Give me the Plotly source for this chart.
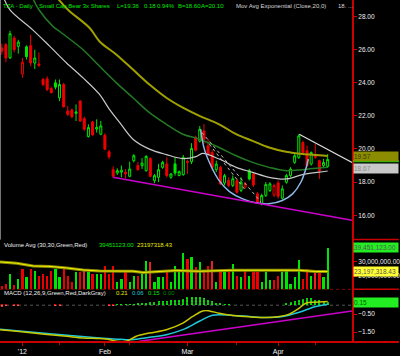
import plotly.graph_objects as go
import pandas as pd

# ---------------- data ----------------
holidays = ['2011-12-26', '2012-01-02', '2012-01-16', '2012-02-20', '2012-04-06']
dates = [d for d in pd.bdate_range('2011-12-23', '2012-04-19') if d.strftime('%Y-%m-%d') not in holidays]
kx = list(range(len(dates)))

opens = [26.10,26.29,25.50,26.69,26.19,24.53,26.17,26.23,25.19,25.13,
         24.19,24.23,23.65,23.99,23.09,23.89,22.29,22.35,22.15,22.89,
         21.83,20.75,21.63,21.20,20.89,20.83,19.83,18.75,18.55,18.60,
         18.60,18.35,19.29,19.00,18.99,18.69,19.43,18.09,18.29,18.89,
         19.09,18.29,19.10,18.40,18.45,19.25,19.23,20.70,20.47,21.09,
         20.19,19.79,18.75,18.89,17.95,18.10,17.80,18.09,17.50,17.70,
         18.69,18.49,17.29,16.69,17.20,17.49,17.23,17.95,17.03,17.99,
         18.39,19.19,19.49,20.39,19.89,19.09,19.60,19.29,18.99,18.95]
highs = [26.35,26.39,27.13,26.83,26.59,25.49,26.25,26.89,25.99,25.83,
         24.29,24.39,23.75,24.19,24.19,23.99,22.59,22.45,22.69,22.95,
         21.95,21.49,21.70,21.79,21.69,20.95,19.95,18.95,18.83,19.00,
         18.79,19.23,19.69,19.20,19.45,19.63,19.50,18.49,19.10,19.29,
         19.50,18.55,19.50,18.70,19.63,19.35,20.35,20.80,21.39,21.50,
         20.60,19.95,19.30,18.99,18.50,18.30,18.40,18.20,18.30,18.00,
         18.80,18.60,17.40,17.30,18.00,18.00,17.90,18.10,17.80,18.50,
         18.90,19.70,20.89,20.50,20.20,19.85,20.30,19.35,19.40,19.70]
lows = [25.69,25.23,25.43,25.83,25.75,24.29,25.40,24.99,24.83,24.95,
        23.79,23.49,23.35,23.59,22.89,22.49,21.99,21.85,21.69,21.63,
        21.09,20.69,20.80,20.99,20.83,19.95,19.39,18.29,18.43,18.29,
        18.23,18.29,19.19,18.70,18.79,18.63,18.29,17.93,18.00,18.80,
        18.29,18.20,18.39,18.35,18.39,18.49,19.09,19.85,20.39,20.30,
        19.55,18.70,18.60,17.83,17.80,17.70,17.70,17.30,17.40,17.60,
        18.10,17.70,16.70,16.60,17.10,17.40,17.10,17.00,16.95,17.90,
        18.30,19.10,19.40,19.70,18.90,19.00,19.40,18.19,18.90,18.85]
closes = [25.90,25.49,26.95,25.99,26.45,25.23,25.57,25.19,25.49,25.05,
          23.89,23.59,23.40,23.73,23.89,22.55,22.09,21.95,22.23,21.69,
          21.19,21.29,20.85,21.30,21.39,19.99,19.53,18.35,18.69,18.72,
          18.50,18.79,19.59,18.75,19.15,19.55,18.35,18.39,18.75,19.19,
          18.39,18.49,18.55,18.63,19.49,19.20,20.03,19.93,21.19,20.59,
          19.69,18.89,19.09,17.89,18.39,17.80,18.20,17.39,18.00,17.90,
          18.19,17.83,16.79,17.19,17.85,17.89,17.79,17.15,17.59,18.39,
          18.79,19.59,20.79,19.79,18.99,19.79,19.50,18.69,19.18,19.36]
prior_close = 26.40

volume_m = [13.5,15.1,21.8,14.4,18.0,25.2,19.6,25.2,24.1,20.7,
            21.8,20.5,24.1,25.2,19.6,25.2,20.7,16.2,23.4,23.4,
            25.2,23.0,21.8,21.8,21.8,27.5,21.8,27.5,16.2,18.0,
            23.0,16.2,20.7,20.7,23.0,30.4,29.7,16.2,19.6,19.6,
            23.0,16.2,27.0,23.0,36.1,32.0,33.1,26.8,29.7,24.1,
            27.5,30.9,16.2,23.0,23.0,23.4,28.6,20.7,19.6,25.2,
            20.7,23.0,23.0,16.2,23.0,17.3,17.3,20.7,23.0,24.1,
            15.1,19.6,31.5,18.5,25.2,20.7,23.0,23.0,19.6,39.45]
hatched_bars = [20, 36, 51, 76]

vol_avg_k = [-0.43, 3.6, 7.6, 11.7, 15.7, 19.7, 23.7, 31.8, 34.2, 42.3, 47.9, 56, 64, 72.1, 76.1, 79]
vol_avg_m = [29.7, 28.8, 26.9, 26.6, 25.6, 24.2, 23.5, 23.4, 22.5, 23.8, 23.3, 24.0, 24.0, 24.0, 23.1, 23.2]

ema20_k = [0.5, 1.98, 7.5, 11.65, 15.7, 19.7, 23.7, 26.1, 28.6, 31.8, 35.8, 39.9, 43.9, 47.1, 48.7, 52.7, 56.8, 60.8, 64.8, 68.9, 72.9, 76.9, 79]
ema20_v = [29.1, 28.39, 27.19, 26.19, 25.19, 24.29, 23.29, 22.39, 21.59, 20.59, 19.99, 19.66, 19.42, 19.54, 19.73, 19.39, 18.89, 18.59, 18.29, 18.19, 18.45, 18.6, 18.67]
ema40_k = [7.5, 9, 12.4, 14.5, 19.7, 23.7, 27.8, 31.8, 35.8, 39.9, 43.9, 47.9, 52.7, 56.8, 60.8, 64.8, 68.9, 72.9, 76.9, 79]
ema40_v = [29.1, 28.4, 27.4, 27.0, 25.99, 24.99, 23.99, 23.09, 22.19, 21.49, 20.89, 20.59, 20.09, 19.59, 19.19, 18.89, 18.69, 18.75, 18.85, 18.9]
ema80_k = [13.5, 16.1, 21.3, 23.7, 27.8, 31.8, 35.8, 39.9, 43.9, 47.9, 52.7, 56.8, 60.8, 64.8, 68.9, 72.9, 76.9, 79]
ema80_v = [29.1, 28.39, 27.3, 26.49, 25.69, 24.79, 23.89, 23.09, 22.49, 22.0, 21.49, 20.89, 20.49, 20.09, 19.83, 19.69, 19.62, 19.57]

macd_k = [-0.43, 3.6, 7.6, 11.65, 15.7, 19.7, 23.7, 26.2, 27.8, 30.2, 32.6, 35.8, 39.9, 43.9, 46.3, 48.7, 50.3, 52.7, 56, 60, 64, 67.3, 69.7, 72.1, 73.7, 76.1, 79]
macd_v = [-1.37, -1.46, -1.56, -1.65, -1.74, -1.83, -1.87, -1.93, -2.02, -2.02, -1.74, -1.56, -1.37, -1.0, -0.63, -0.32, -0.32, -0.45, -0.57, -0.65, -0.69, -0.63, -0.5, -0.17, 0.11, 0.17, 0.21]
signal_k = [-0.43, 11.65, 23.7, 28, 30.2, 32.6, 35.8, 39.9, 43.9, 47.9, 51.1, 56, 60, 64, 68.1, 72.1, 76.1, 79]
signal_v = [-1.35, -1.6, -1.83, -1.9, -1.93, -1.9, -1.8, -1.65, -1.37, -0.9, -0.56, -0.57, -0.63, -0.69, -0.63, -0.39, -0.07, 0.06]
hist_v = [-0.10,-0.08,0,-0.06,-0.06,0,0,0,0,0,
          0,0,0,-0.05,-0.05,0,0,0,0,0,
          0,0,0,0,0,0,-0.07,-0.08,0.01,0.01,
          0.01,0.01,0.01,0.08,0.10,0.12,0.15,0.18,0.20,0.22,
          0.24,0.25,0.27,0.30,0.35,0.42,0.44,0.44,0.44,0.38,
          0.30,0.20,0.12,0.05,0.01,0.01,0,0,0,0,
          0,0,0,0,0,0,0,0,0,0.07,
          0.15,0.22,0.30,0.35,0.38,0.38,0.30,0.25,0.20,0.15]

support_k = [26.95, 84.9]
support_v = [18.29, 15.69]
resist_k = [72.1, 84.9]
resist_v = [20.89, 19.19]
macd_trend_k = [33.4, 84.9]
macd_trend_v = [-2.02, -0.32]
cup_k = [48.2, 49.1, 50.7, 52.7, 55.2, 58.4, 61.6, 64.8, 68.0, 70.5, 72.5, 73.7, 74.3]
cup_v = [21.19, 19.99, 18.99, 18.09, 17.43, 16.99, 16.75, 16.69, 16.89, 17.29, 17.99, 18.79, 19.39]
dash1_k = [48.5, 62.8]
dash1_v = [21.0, 16.8]
dash2_k = [50.3, 58.8]
dash2_v = [20.29, 17.59]

tick_labels = {'2012-01-03': "'12", '2012-02-01': 'Feb', '2012-03-01': 'Mar', '2012-04-02': 'Apr'}
minor_tick_days = ['2012-01-17', '2012-02-09', '2012-03-19', '2012-04-16']

# ---------------- figure ----------------
G = '#00e600'
R = '#ee0000'
AX = '#cc0000'
prev = [prior_close] + closes[:-1]
up = [c >= p for c, p in zip(closes, prev)]

fig = go.Figure()

for flag, col in ((True, G), (False, R)):
    idx = [i for i in kx if up[i] == flag]
    fig.add_trace(go.Candlestick(
        x=idx, open=[opens[i] for i in idx], high=[highs[i] for i in idx],
        low=[lows[i] for i in idx], close=[closes[i] for i in idx],
        increasing=dict(line=dict(color=col, width=1), fillcolor='black'),
        decreasing=dict(line=dict(color=col, width=1), fillcolor=col),
        whiskerwidth=0, showlegend=False, hoverinfo='skip', xaxis='x', yaxis='y'))

fig.add_trace(go.Scatter(x=ema80_k, y=ema80_v, mode='lines', line=dict(color='#a0a000', width=2, shape='spline'), xaxis='x', yaxis='y', hoverinfo='skip'))
fig.add_trace(go.Scatter(x=ema40_k, y=ema40_v, mode='lines', line=dict(color='#237a23', width=1.5, shape='spline'), xaxis='x', yaxis='y', hoverinfo='skip'))
fig.add_trace(go.Scatter(x=ema20_k, y=ema20_v, mode='lines', line=dict(color='#c8c8c8', width=1.2, shape='spline'), xaxis='x', yaxis='y', hoverinfo='skip'))
fig.add_trace(go.Scatter(x=dash1_k, y=dash1_v, mode='lines', line=dict(color='#bbbbbb', width=1, dash='dot'), xaxis='x', yaxis='y', hoverinfo='skip'))
fig.add_trace(go.Scatter(x=dash2_k, y=dash2_v, mode='lines', line=dict(color='#bbbbbb', width=1, dash='dot'), xaxis='x', yaxis='y', hoverinfo='skip'))
fig.add_trace(go.Scatter(x=cup_k, y=cup_v, mode='lines', line=dict(color='#8cb8e8', width=1.5, shape='spline'), xaxis='x', yaxis='y', hoverinfo='skip'))
fig.add_trace(go.Scatter(x=support_k, y=support_v, mode='lines', line=dict(color='#cc00cc', width=1.5), xaxis='x', yaxis='y', hoverinfo='skip'))
fig.add_trace(go.Scatter(x=resist_k, y=resist_v, mode='lines', line=dict(color='#dddddd', width=1.2), xaxis='x', yaxis='y', hoverinfo='skip'))

# volume
fig.add_trace(go.Bar(x=kx, y=[v * 1e6 for v in volume_m],
                     marker=dict(color=[G if u else R for u in up], line=dict(width=0),
                                 pattern=dict(shape=['.' if i in hatched_bars else '' for i in kx],
                                              fgcolor='black', size=2, solidity=0.3, fillmode='overlay')),
                     width=0.55, xaxis='x', yaxis='y2', hoverinfo='skip'))
fig.add_trace(go.Scatter(x=vol_avg_k, y=[v * 1e6 for v in vol_avg_m], mode='lines', line=dict(color='#8c8c00', width=3),
                         xaxis='x', yaxis='y2', hoverinfo='skip'))
fig.add_trace(go.Scatter(x=vol_avg_k, y=[v * 1e6 for v in vol_avg_m], mode='lines', line=dict(color='#f0f000', width=1),
                         xaxis='x', yaxis='y2', hoverinfo='skip'))

# macd
fig.add_trace(go.Bar(x=kx, y=hist_v,
                     marker=dict(color=[G if h >= 0 else R for h in hist_v], line=dict(width=0),
                                 pattern=dict(shape='-', fgcolor='black', size=3, solidity=0.35, fillmode='overlay')),
                     width=0.5, xaxis='x', yaxis='y3', hoverinfo='skip'))
fig.add_trace(go.Scatter(x=signal_k, y=signal_v, mode='lines', line=dict(color='#20c8d8', width=1.5, shape='spline'), xaxis='x', yaxis='y3', hoverinfo='skip'))
fig.add_trace(go.Scatter(x=macd_k, y=macd_v, mode='lines', line=dict(color='#c8c800', width=1.5, shape='spline'), xaxis='x', yaxis='y3', hoverinfo='skip'))
fig.add_trace(go.Scatter(x=macd_trend_k, y=macd_trend_v, mode='lines', line=dict(color='#cc00cc', width=1.5), xaxis='x', yaxis='y3', hoverinfo='skip'))

ds = [d.strftime('%Y-%m-%d') for d in dates]
tickpos = [kx[i] for i, d in enumerate(ds) if d in tick_labels]
ticktxt = [tick_labels[d] for d in ds if d in tick_labels]
minorpos = [kx[i] for i, d in enumerate(ds) if d in minor_tick_days]

FONT = 'Liberation Sans, Arial, sans-serif'
AXFS = 6.5
yax_common = dict(side='right', anchor='x', showgrid=False, zeroline=False, showline=True, linecolor=AX, linewidth=2,
                  ticks='outside', tickcolor=AX, ticklen=3, tickfont=dict(color='#f0f0f0', size=AXFS, family=FONT))

fig.update_layout(
    width=400, height=356, margin=dict(l=0, r=47, t=0, b=12),
    paper_bgcolor='black', plot_bgcolor='black', showlegend=False, bargap=0,
    xaxis=dict(range=[-0.435, 84.9], domain=[0, 1], anchor='y3', showgrid=False, zeroline=False,
               showline=False, tickvals=tickpos, ticktext=ticktxt, ticks='outside', tickcolor=AX, ticklen=3,
               minor=dict(tickvals=minorpos, ticks='outside', ticklen=2, tickcolor=AX, showgrid=False),
               tickfont=dict(color='#f0f0f0', size=7, family=FONT), rangeslider=dict(visible=False)),
    yaxis=dict(domain=[0.2994, 1], range=[14.53, 28.99], tickvals=[16, 18, 20, 22, 24, 26, 28], tickformat='.2f', **yax_common),
    yaxis2=dict(domain=[0.154, 0.2994], range=[11.0e6, 44.9e6], tickvals=[20e6, 30e6],
                ticktext=['20,000,000.00', '30,000,000.00'], **yax_common),
    yaxis3=dict(domain=[0, 0.154], range=[-2.06, 0.889], tickvals=[-1.5, -0.5], tickformat='.2f', **yax_common),
)

shapes = [
    dict(type='line', xref='paper', yref='paper', x0=0, x1=400 / 353, y0=0, y1=0, line=dict(color=AX, width=2)),
    dict(type='line', xref='paper', yref='paper', x0=1, x1=400 / 353, y0=0.2994, y1=0.2994, line=dict(color=AX, width=1.5)),
    dict(type='line', xref='paper', yref='paper', x0=1, x1=400 / 353, y0=0.154, y1=0.154, line=dict(color=AX, width=1.5)),
    dict(type='line', xref='paper', yref='paper', x0=0, x1=1, y0=0.154, y1=0.154, line=dict(color='#880000', width=1, dash='dot')),
    dict(type='line', xref='paper', yref='paper', x0=0.0015, x1=0.0015, y0=0.2994, y1=1, line=dict(color='#777777', width=1)),
    dict(type='line', xref='x', yref='y3', x0=-0.435, x1=84.9, y0=0, y1=0, line=dict(color='#555555', width=1, dash='dot'), layer='below'),
    dict(type='line', xref='paper', yref='y', x0=1.003, x1=400 / 353, y0=closes[-1] - 0.1, y1=closes[-1] - 0.1, line=dict(color='#00cc00', width=2)),
]
fig.update_layout(shapes=shapes)

ann = []
def txt(x, y, s, color, size=6):
    ann.append(dict(x=x / 353, y=1 - y / 344, xref='paper', yref='paper', text=s, showarrow=False, xanchor='left', yanchor='middle',
                    font=dict(color=color, size=size, family=FONT)))

txt(1, 6, 'TZA - Daily', G)
txt(37, 6, 'Small Cap Bear 3x Shares', G)
txt(115, 6, 'L=19.36', G)
txt(142, 6, '0.18', G)
txt(155, 6, '0.94%', G)
txt(177, 6, 'B=18.60', G)
txt(200, 6, 'A=20.10', G)
txt(235, 6, 'Mov Avg Exponential (Close,20,0)', '#d8d8d8')
txt(337, 6, '18. ...', '#d8d8d8')

txt(2, 246, 'Volume Avg (30,30,Green,Red)', '#f0f0f0')
txt(97, 246, '39451123.00', G)
txt(135, 246, '23197318.43', '#e8e800')

txt(2, 295, 'MACD (12,26,9,Green,Red,DarkGray)', '#f0f0f0')
txt(114, 295, '0.21', '#e8e800')
txt(130, 295, '0.06', '#20c8d8')
txt(146, 295, '0.15', G)
txt(161, 295, '0.00', '#008800')

def box(y, yref, s, bg, fg):
    ann.append(dict(x=354 / 353, y=y, xref='paper', yref=yref, text=s, showarrow=False, xanchor='left', yanchor='middle',
                    width=44, height=9, align='left', bgcolor=bg, borderpad=0,
                    font=dict(color=fg, size=AXFS, family=FONT)))

box(ema80_v[-1], 'y', '19.57', '#8c8c00', '#3a3a00')
box(ema20_v[-1] + 0.15, 'y', '18.67', '#c8c8c8', '#8a8a8a')
box(volume_m[-1] * 1e6, 'y2', '39,451,123.00', '#22ee22', '#555555')
box(vol_avg_m[-1] * 1e6, 'y2', '23,197,318.43', '#ffff33', '#555555')
box(hist_v[-1], 'y3', '0.15', '#22ee22', '#006600')

fig.update_layout(annotations=ann)
fig.write_html('out.html')
